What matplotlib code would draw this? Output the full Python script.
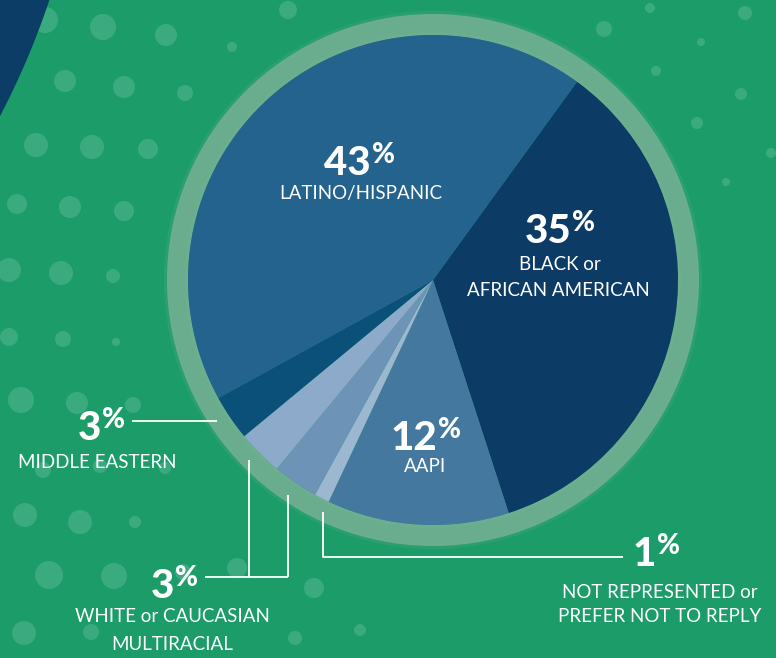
import matplotlib
matplotlib.use("Agg")
import matplotlib.pyplot as plt
from matplotlib.patches import Circle, Wedge

# slice data, clockwise from the top-right boundary
groups = ["Black or African American", "AAPI", "Not represented or prefer not to reply",
          "Multiracial", "White or Caucasian", "Middle Eastern", "Latino/Hispanic"]
shares = [35, 12, 1, 3, 3, 3, 43]
colors = ["#0c3c66", "#44789f", "#9db7d1", "#6d93b7", "#8eaacb", "#0b5078", "#24638e"]

# decorative background dots (x, y, r) in image pixels
dots = [(45, 20, 13), (103, 27, 13), (166, 35, 11), (232, 47, 5), (288, 10, 9),
        (65, 81, 11), (124, 87, 11), (185, 93, 8),
        (17, 204, 10), (70, 207, 11), (124, 211, 10), (36, 145, 12), (92, 147, 12), (148, 149, 10),
        (9, 270, 12), (61, 273, 12), (113, 276, 7),
        (9, 337, 9), (63, 339, 8), (116, 342, 4),
        (21, 400, 13), (77, 403, 11), (133, 405, 8),
        (43, 470, 8), (100, 466, 7), (165, 468, 6),
        (25, 515, 12), (80, 522, 12), (135, 522, 6),
        (49, 575, 14), (114, 576, 13), (183, 572, 8), (24, 633, 12), (91, 632, 8),
        (237, 568, 10), (314, 588, 10), (295, 638, 7), (360, 630, 6),
        (604, 29, 8), (745, 13, 7), (701, 42, 4), (656, 71, 5), (741, 94, 6),
        (697, 123, 6), (771, 153, 5), (726, 182, 4), (650, 8, 5)]

W, H = 776, 658
BG = "#1b9c69"


def Y(y):
    return H - y


fig = plt.figure(figsize=(W / 100, H / 100), dpi=100)
fig.patch.set_facecolor(BG)
ax = fig.add_axes([0, 0, 1, 1])

for x, y, r in dots:
    ax.add_patch(Circle((x, Y(y)), r, color="white", alpha=0.15, lw=0, zorder=1))

# big navy arc top-left
ax.add_patch(Circle((-700, Y(-250)), 790, color="#0b3d66", lw=0, zorder=2))

cx, cy, R = 433, Y(280), 245

# fuzzy ring around the pie
for rr, w, a in [(269, 5, 0.2), (266, 21, 0.9), (248, 3, 0.5)]:
    ax.add_patch(Wedge((cx, cy), rr, 0, 360, width=w, color="#72b093", alpha=a, lw=0, zorder=3))

ax.pie(shares, colors=colors, startangle=54, counterclock=False,
       center=(cx, cy), radius=R, wedgeprops=dict(linewidth=0, zorder=4))

NUM = dict(family="Lato", weight="black", color="white", zorder=6)
LAB = dict(family="Lato", weight="normal", color="white", fontsize=13.5, ha="center", va="center", zorder=6)


def pct(x, y, num):
    # number right-aligned at x, smaller raised % sign after it
    ax.text(x, Y(y), num, fontsize=29, ha="right", va="baseline", **NUM)
    ax.text(x + 1, Y(y - 12), "%", fontsize=20, ha="left", va="baseline", **NUM)


pct(371, 175, "43")
ax.text(361, Y(194), "LATINO/HISPANIC", **LAB)

pct(571, 243, "35")
ax.text(560, Y(265), "BLACK or", **LAB)
ax.text(558, Y(290), "AFRICAN AMERICAN", **LAB)

pct(437, 450, "12")
ax.text(425, Y(467), "AAPI", **LAB)

pct(101, 440, "3")
ax.text(97, Y(463), "MIDDLE EASTERN", **LAB)

pct(174, 598, "3")
ax.text(172, Y(617), "WHITE or CAUCASIAN", **LAB)
ax.text(172, Y(645), "MULTIRACIAL", **LAB)

pct(656, 566, "1")
ax.text(660, Y(592), "NOT REPRESENTED or", **LAB)
ax.text(660, Y(617), "PREFER NOT TO REPLY", **LAB)

# leader lines
LN = dict(color="white", lw=1.3, zorder=5, solid_capstyle="butt")
ax.plot([132, 217], [Y(421), Y(421)], **LN)
ax.plot([249, 249], [Y(460), Y(577)], **LN)
ax.plot([288, 288], [Y(495), Y(577)], **LN)
ax.plot([205, 288], [Y(577), Y(577)], **LN)
ax.plot([323, 323, 623], [Y(512), Y(557), Y(557)], **LN)

ax.set_xlim(0, W)
ax.set_ylim(0, H)
ax.set_aspect("auto")
ax.axis("off")

fig.savefig("out.png", dpi=100, facecolor=BG)
